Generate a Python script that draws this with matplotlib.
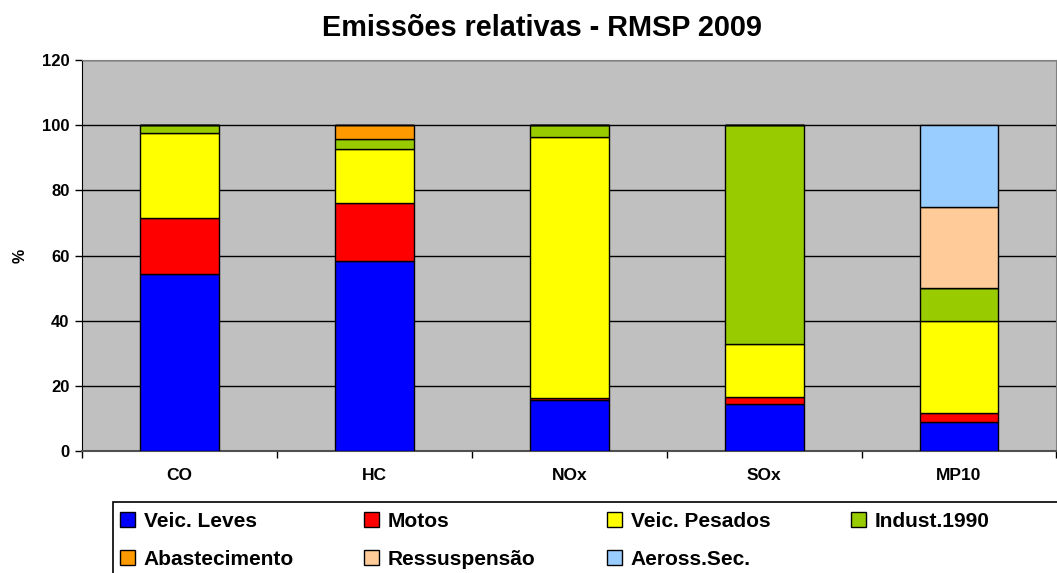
import matplotlib
matplotlib.use("Agg")
import matplotlib.pyplot as plt
from matplotlib.patches import Rectangle
import numpy as np

plt.rcParams['font.family'] = ['Liberation Sans', 'DejaVu Sans']

categories = ["CO", "HC", "NOx", "SOx", "MP10"]
series_names = ["Veic. Leves", "Motos", "Veic. Pesados", "Indust.1990",
                "Abastecimento", "Ressuspensão", "Aeross.Sec."]
veic_leves = [54.4, 58.3, 15.6, 14.5, 8.9]
motos = [17.2, 17.9, 0.6, 2.0, 2.8]
veic_pesados = [26.1, 16.6, 80.1, 16.3, 28.2]
indust_1990 = [2.3, 3.0, 3.7, 67.2, 10.1]
abastecimento = [0.0, 4.2, 0.0, 0.0, 0.0]
ressuspensao = [0.0, 0.0, 0.0, 0.0, 25.0]
aeross_sec = [0.0, 0.0, 0.0, 0.0, 25.0]
colors = ["#0000FF", "#FF0000", "#FFFF00", "#99CC00", "#FF9900", "#FFCC99", "#99CCFF"]
yticks = [0, 20, 40, 60, 80, 100, 120]

series = [veic_leves, motos, veic_pesados, indust_1990, abastecimento, ressuspensao, aeross_sec]

W, H = 1057, 573
fig = plt.figure(figsize=(W / 100, H / 100), dpi=100)
ax = fig.add_axes([82 / W, 1 - 451 / H, 1 - 82 / W - 0.0005, (451 - 60) / H])
ax.set_facecolor("#C0C0C0")

x = np.arange(len(categories))
bottom = np.zeros(len(categories))
handles = []
for name, vals, c in zip(series_names, series, colors):
    vals = np.array(vals)
    h = ax.bar(x, vals, width=0.405, bottom=bottom, color=c, edgecolor="black",
               linewidth=1.0, label=name, zorder=3)
    handles.append(h)
    bottom += vals

ax.set_xlim(-0.5, len(categories) - 0.5)
ax.set_ylim(0, 120)
ax.set_yticks(yticks)
ax.set_yticklabels([str(v) for v in yticks], fontsize=12, fontweight="bold")
ax.yaxis.grid(True, color="black", linewidth=1.0, zorder=1)
ax.set_axisbelow(True)

ax.set_xticks(x)
ax.set_xticklabels(categories, fontsize=12.5, fontweight="bold")
ax.tick_params(axis="x", length=0, pad=12)
ax.set_xticks(np.arange(-0.5, len(categories) + 0.5, 1.0), minor=True)
ax.tick_params(axis="x", which="minor", length=5, direction="out", width=1)
ax.tick_params(axis="y", length=5, direction="out", width=1, pad=4)

for s in ["top", "right"]:
    ax.spines[s].set_color("#808080")
ax.spines["left"].set_color("black")
ax.spines["bottom"].set_color("#505050")
ax.spines["bottom"].set_linewidth(1.5)

ax.set_ylabel("%", fontsize=11.5, fontweight="bold", labelpad=10)

fig.text(542 / W, 1 - 28 / H, "Emissões relativas - RMSP 2009", fontsize=20.8,
         fontweight="bold", ha="center", va="center")

# legend frame
fig.add_artist(Rectangle((113 / W, -0.1), 1.0, 1 - 502 / H + 0.1,
                         transform=fig.transFigure, facecolor="white",
                         edgecolor="black", linewidth=1.2, zorder=0))

legend_columns = [[0, 4], [1, 5], [2, 6], [3]]
legend_x = [120, 364, 607, 851]
for cols, lx in zip(legend_columns, legend_x):
    leg = fig.legend(handles=[handles[i] for i in cols],
                     labels=[series_names[i] for i in cols],
                     loc="upper left", bbox_to_anchor=(lx / W, 1 - 512 / H),
                     frameon=False, prop={"size": 15, "weight": "bold"},
                     handlelength=0.7, handleheight=0.7, handletextpad=0.45,
                     borderaxespad=0, borderpad=0, labelspacing=0.9)

fig.savefig("out.png", dpi=100)
